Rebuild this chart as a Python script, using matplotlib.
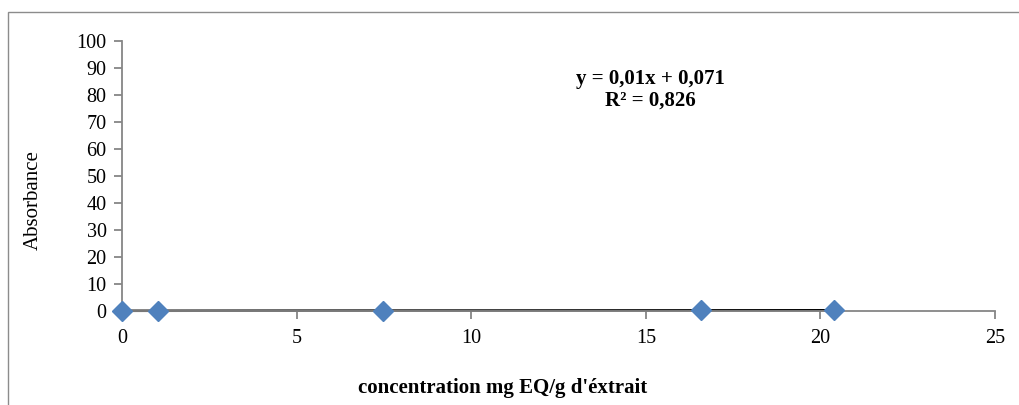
import matplotlib
matplotlib.use("Agg")
import matplotlib.pyplot as plt
from matplotlib.patches import Rectangle
import numpy as np

# Calibration data
concentration = [0.0, 1.03, 7.47, 16.58, 20.39]
absorbance = [0.07, 0.09, 0.15, 0.24, 0.27]
slope, intercept = 0.01, 0.071
equation = "y = 0,01x + 0,071"
r_squared = "R² = 0,826"
x_ticks = [0, 5, 10, 15, 20, 25]
y_ticks = list(range(0, 101, 10))

plt.rcParams["font.family"] = ["Liberation Serif", "DejaVu Serif"]

fig = plt.figure(figsize=(10.2, 4.05), dpi=100)
fig.patches.append(Rectangle((8 / 1020, -0.1), 1.2, 1 - 12 / 405 + 0.1,
                             transform=fig.transFigure, fill=False,
                             edgecolor="#8c8c8c", linewidth=1.0))

ax = fig.add_axes([122 / 1020, 1 - 311 / 405, (995 - 122) / 1020, (311 - 41) / 405])
grey = "#868686"
ax.set_xlim(0, 25)
ax.set_ylim(0, 100)
for s in ["top", "right"]:
    ax.spines[s].set_visible(False)
for s in ["left", "bottom"]:
    ax.spines[s].set_color(grey)
    ax.spines[s].set_linewidth(1.3)
ax.set_xticks(x_ticks)
ax.set_yticks(y_ticks)
ax.tick_params(axis="both", colors=grey, length=6, width=1.3, labelsize=14.5,
               labelcolor="black")
ax.tick_params(axis="x", pad=7)
ax.tick_params(axis="y", pad=5)

# Linear fit line
fit_x = np.array([min(concentration), max(concentration)])
ax.plot(fit_x, slope * fit_x + intercept, color="black", linewidth=1.8,
        zorder=2, clip_on=False)
ax.plot(concentration, absorbance, linestyle="none", marker="D", markersize=10.5,
        color="#4F81BD", zorder=3, clip_on=False)

fig.text(650 / 1020, 1 - 79 / 405, equation, fontsize=15, fontweight="bold",
         ha="center", va="center")
fig.text(650 / 1020, 1 - 101 / 405, r_squared, fontsize=15, fontweight="bold",
         ha="center", va="center")

fig.text(33 / 1020, 1 - 200 / 405, "Absorbance", rotation=90, fontsize=15,
         ha="center", va="center")
fig.text(503 / 1020, 1 - 388 / 405, "concentration mg EQ/g d'éxtrait", fontsize=15,
         fontweight="bold", ha="center", va="center")

fig.savefig("out.png", dpi=100)
